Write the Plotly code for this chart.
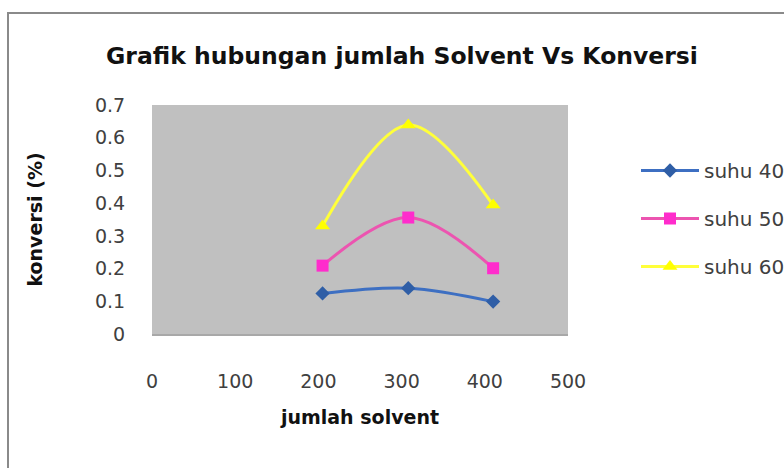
import plotly.graph_objects as go

# jumlah solvent (x) and konversi values for each temperature
solvent = [205, 308, 410]
suhu_40 = [0.124, 0.140, 0.099]
suhu_50 = [0.209, 0.356, 0.201]
suhu_60 = [0.330, 0.639, 0.394]

series = [
    ("suhu 40", suhu_40, "#3d6fc2", "#2f5ea6", "diamond", 11),
    ("suhu 50", suhu_50, "#ec54b0", "#ff2ccc", "square", 12),
    ("suhu 60", suhu_60, "#ffff3a", "#ffff00", "triangle-up", 13),
]

FONT = "DejaVu Sans"

fig = go.Figure()
for i, (name, vals, lcol, mcol, sym, msize) in enumerate(series):
    fig.add_trace(go.Scatter(
        x=solvent, y=vals, name=name, mode="lines+markers",
        line=dict(color=lcol, width=3, shape="spline", smoothing=1.0),
        marker=dict(color=mcol, symbol=sym, size=msize, line=dict(width=0)),
        legendgroup=name,
    ))

fig.update_layout(
    width=784, height=468,
    margin=dict(l=152, r=216, t=105, b=134, autoexpand=False),
    paper_bgcolor="white",
    plot_bgcolor="#c0c0c0",
    font=dict(family=FONT, size=19, color="#404040"),
    title=dict(
        text="<b>Grafik hubungan jumlah Solvent Vs Konversi</b>",
        x=402 / 784, xanchor="center", xref="container",
        y=1 - 56 / 468, yanchor="middle", yref="container",
        font=dict(family=FONT, size=23.5, color="#111111"),
    ),
    showlegend=True,
    legend=dict(
        x=(636 - 152) / 416, xanchor="left",
        y=1 + (105 - 151) / 229, yanchor="top",
        font=dict(family=FONT, size=20, color="#404040"),
        bgcolor="rgba(0,0,0,0)",
        itemwidth=58,
        tracegroupgap=19,
    ),
    shapes=[dict(
        type="rect", xref="paper", yref="paper",
        x0=(8 - 152) / 416, x1=(900 - 152) / 416,
        y0=-1, y1=1 + (105 - 13) / 229,
        line=dict(color="#8a8a8a", width=2), fillcolor="rgba(0,0,0,0)",
        layer="below",
    )],
)

fig.update_xaxes(
    range=[0, 500], dtick=100, tick0=0,
    showgrid=False, zeroline=False,
    showline=True, linecolor="#a8a8a8", linewidth=2,
    ticks="outside", ticklen=29, tickcolor="rgba(0,0,0,0)",
    tickfont=dict(family=FONT, size=19, color="#404040"),
    title=dict(text="<b>jumlah solvent</b>", standoff=20,
               font=dict(family=FONT, size=19, color="#111111")),
)
fig.update_yaxes(
    range=[0, 0.7], dtick=0.1, tick0=0,
    showgrid=False, zeroline=False, showline=False,
    ticks="outside", ticklen=22, tickcolor="rgba(0,0,0,0)",
    tickfont=dict(family=FONT, size=19, color="#404040"),
    title=dict(text="<b>konversi (%)</b>", standoff=47,
               font=dict(family=FONT, size=19, color="#111111")),
)

fig.write_html("out.html")
